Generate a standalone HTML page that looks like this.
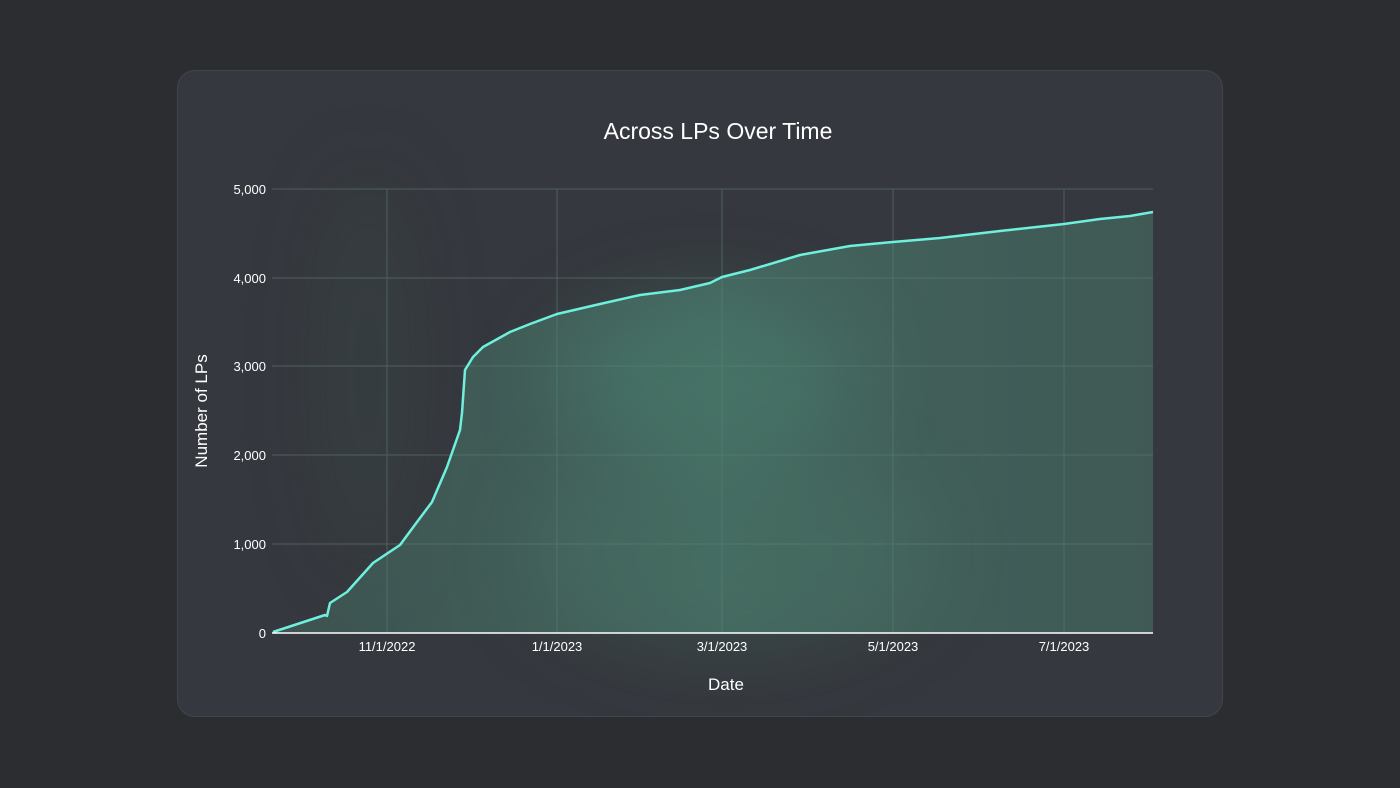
<!DOCTYPE html>
<html><head><style>
html,body{margin:0;padding:0;width:1400px;height:788px;background:#2b2d31;overflow:hidden;font-family:"Liberation Sans",sans-serif}
.card{position:absolute;left:177px;top:70px;width:1046px;height:647px;border-radius:18px;background:#35383e;border:1px solid #42464c;box-sizing:border-box;overflow:hidden}
.blob{position:absolute;border-radius:50%;filter:blur(40px)}
</style></head><body>
<div class="card">
<div class="blob" style="left:380px;top:230px;width:300px;height:160px;background:rgba(70,130,110,0.4)"></div>
<div class="blob" style="left:350px;top:380px;width:400px;height:200px;background:rgba(70,120,100,0.25)"></div>
<div class="blob" style="left:150px;top:100px;width:80px;height:400px;background:rgba(60,90,80,0.2)"></div>
</div>
<svg width="1400" height="788" style="position:absolute;left:0;top:0" font-family="Liberation Sans, sans-serif">
<defs><linearGradient id="g" x1="0" y1="0" x2="1" y2="0">
<stop offset="0" stop-color="#4a7a6c" stop-opacity="0.4"/><stop offset="0.5" stop-color="#4f8a78" stop-opacity="0.55"/><stop offset="1" stop-color="#4a7a6c" stop-opacity="0.5"/></linearGradient></defs>
<text x="718" y="139" fill="#fff" font-size="23" text-anchor="middle">Across LPs Over Time</text>
<g stroke="#617a72" stroke-width="1" opacity="0.6">
<line x1="272" y1="189" x2="1153" y2="189"/><line x1="272" y1="278" x2="1153" y2="278"/><line x1="272" y1="366" x2="1153" y2="366"/><line x1="272" y1="455" x2="1153" y2="455"/><line x1="272" y1="544" x2="1153" y2="544"/>
<line x1="387" y1="189" x2="387" y2="633"/><line x1="557" y1="189" x2="557" y2="633"/><line x1="722" y1="189" x2="722" y2="633"/><line x1="893" y1="189" x2="893" y2="633"/><line x1="1064" y1="189" x2="1064" y2="633"/>
</g>
<path fill="url(#g)" d="M273,632 L325,615 L327,616 L330,603 L347,592 L373,563 L400,545 L417,522 L432,502 L447,467 L460,430 L462,413 L465,370 L473,357 L483,347 L510,332 L530,324 L557,314 L600,304 L640,295 L680,290 L710,283 L722,277 L750,270 L800,255 L850,246 L893,242 L940,238 L1000,231 L1064,224 L1100,219 L1130,216 L1153,212 L1153,633 L273,633 Z"/>
<path fill="none" stroke="#6ef0dc" stroke-width="2.5" stroke-linejoin="round" d="M273,632 L325,615 L327,616 L330,603 L347,592 L373,563 L400,545 L417,522 L432,502 L447,467 L460,430 L462,413 L465,370 L473,357 L483,347 L510,332 L530,324 L557,314 L600,304 L640,295 L680,290 L710,283 L722,277 L750,270 L800,255 L850,246 L893,242 L940,238 L1000,231 L1064,224 L1100,219 L1130,216 L1153,212"/>
<line x1="272" y1="633" x2="1153" y2="633" stroke="#fff" stroke-width="1.5"/>
<g fill="#fff" font-size="13" text-anchor="end">
<text x="266" y="194">5,000</text><text x="266" y="283">4,000</text><text x="266" y="371">3,000</text><text x="266" y="460">2,000</text><text x="266" y="549">1,000</text><text x="266" y="638">0</text></g>
<g fill="#fff" font-size="13" text-anchor="middle">
<text x="387" y="651">11/1/2022</text><text x="557" y="651">1/1/2023</text><text x="722" y="651">3/1/2023</text><text x="893" y="651">5/1/2023</text><text x="1064" y="651">7/1/2023</text></g>
<text x="726" y="690" fill="#fff" font-size="17" text-anchor="middle">Date</text>
<text transform="translate(207,411) rotate(-90)" fill="#fff" font-size="17" text-anchor="middle">Number of LPs</text>
</svg>
</body></html>
